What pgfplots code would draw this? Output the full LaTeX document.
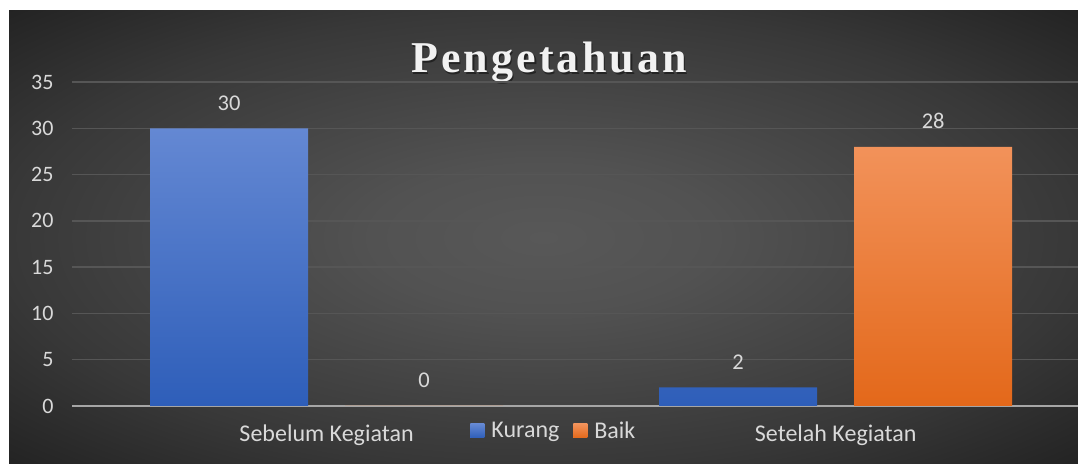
\documentclass[border=0pt]{standalone}
\usepackage{pgfplots}
\pgfplotsset{compat=1.18}
\usepackage{fontspec}
\setmainfont{Carlito}
\newfontfamily\titlefont[LetterSpace=7]{Liberation Serif}
\definecolor{bgin}{HTML}{585858}
\definecolor{bgin2}{HTML}{525252}
\definecolor{bgmid}{HTML}{383838}
\definecolor{bgout}{HTML}{222222}
\definecolor{gridc}{HTML}{565656}
\definecolor{axc}{HTML}{A6A6A6}
\definecolor{txt}{HTML}{D9D9D9}
\definecolor{btop}{HTML}{6488D3}
\definecolor{bbot}{HTML}{2E5EB9}
\definecolor{otop}{HTML}{F2925A}
\definecolor{obot}{HTML}{E3681A}
\definecolor{bleg}{HTML}{4472C4}
\definecolor{oleg}{HTML}{ED7D31}
\pgfdeclareradialshading{chartbg}{\pgfpoint{0bp}{0bp}}{color(0bp)=(bgin); color(8bp)=(bgin2); color(25bp)=(bgmid); color(36bp)=(bgout); color(50bp)=(bgout)}
\begin{document}
\begin{tikzpicture}[x=1bp,y=1bp]
\fill[white] (0,0) rectangle (1078,464);
\shade[shading=chartbg] (9,0) rectangle (1078,453);
\node[anchor=base, text=black, opacity=0.45, inner sep=0pt] at (550.5,389.8) {\fontsize{44bp}{50bp}\titlefont\bfseries Pengetahuan};
\node[anchor=base, text=white!95!black, inner sep=0pt] at (549,391.3) {\fontsize{44bp}{50bp}\titlefont\bfseries Pengetahuan};
\begin{axis}[
  at={(72bp,58bp)}, anchor=south west,
  scale only axis, width=1006bp, height=324bp,
  xmin=-0.5, xmax=1.476, ymin=0, ymax=35,
  ybar=37bp, bar width=158bp,
  xtick={0,1}, xticklabels={Sebelum Kegiatan,Setelah Kegiatan},
  ytick={0,5,...,35},
  major tick length=0pt,
  axis line style={draw=none},
  ymajorgrids, grid style={color=gridc, line width=1.5bp},
  extra y ticks={0}, extra y tick labels={},
  extra y tick style={grid style={color=axc, line width=2.5bp}},
  /pgf/number format/assume math mode=true,
  yticklabel style={font=\fontsize{22bp}{24bp}\selectfont, color=txt, xshift=-15bp},
  xticklabel style={font=\fontsize{24bp}{28bp}\selectfont, color=txt, yshift=-15bp},
  nodes near coords,
  nodes near coords style={font=\fontsize{22.5bp}{26bp}\selectfont, color=txt, anchor=base, inner sep=0pt, yshift=18bp},
  legend style={at={(0.479,-0.077)}, anchor=center, draw=none, fill=none,
    font=\fontsize{24bp}{28bp}\selectfont, text=txt,
    /tikz/every odd column/.append style={column sep=5bp},
    /tikz/every even column/.append style={column sep=12bp}},
  legend columns=2,
  clip=false,
]
\addplot[draw=none, top color=btop, bottom color=bbot,
  legend image code/.code={\fill[bleg] (0bp,-7bp) rectangle (14bp,7bp);}]
  coordinates {(0,30) (1,2)};
\addplot[draw=none, top color=otop, bottom color=obot,
  legend image code/.code={\fill[oleg] (0bp,-7bp) rectangle (14bp,7bp);}]
  coordinates {(0,0) (1,28)};
\legend{Kurang,Baik}
\end{axis}
\pgfresetboundingbox
\path[use as bounding box] (0,0) rectangle (1078,464);
\end{tikzpicture}
\end{document}
